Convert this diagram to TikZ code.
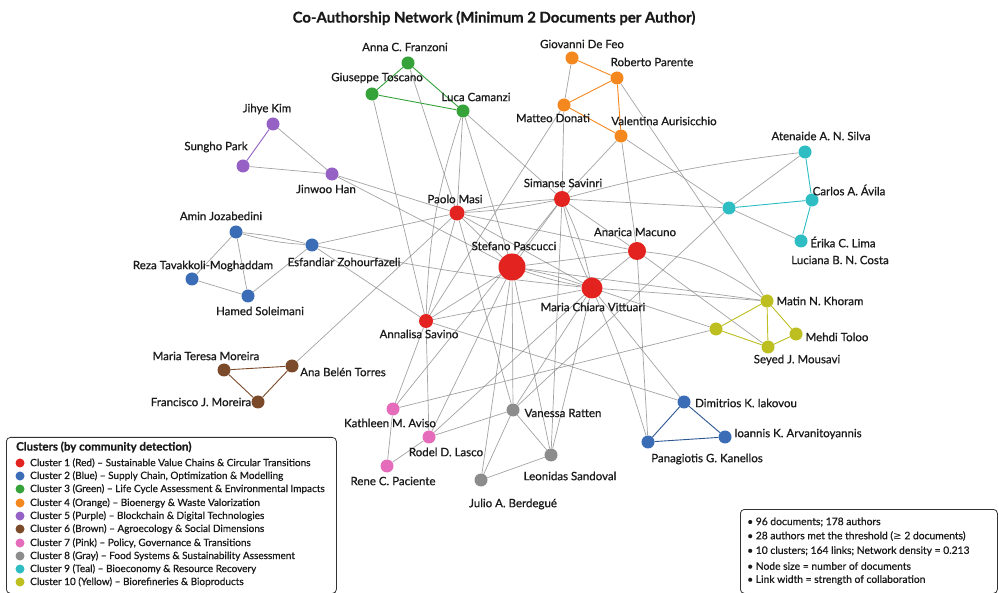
\documentclass[tikz,border=0pt]{standalone}
\usepackage{fontspec}
\setmainfont{Lato}[RawFeature={embolden=0.7}]
\newfontfamily\symfont{DejaVu Sans}
\usetikzlibrary{backgrounds}
\definecolor{cred}{HTML}{E3231F}
\definecolor{cblue}{HTML}{3A6DB5}
\definecolor{cgreen}{HTML}{35A23A}
\definecolor{corange}{HTML}{F5871F}
\definecolor{cpurple}{HTML}{9561C4}
\definecolor{cbrown}{HTML}{7B4A2A}
\definecolor{cpink}{HTML}{E46CBB}
\definecolor{cgray}{HTML}{8C8C8C}
\definecolor{cteal}{HTML}{2DBDC2}
\definecolor{cyellow}{HTML}{BDBE20}
\definecolor{edgegray}{HTML}{858585}
\definecolor{txt}{HTML}{1A1A1A}
\tikzset{
  nd/.style={circle,inner sep=0pt,minimum size=13pt,fill=#1},
  lab/.style={font=\fontsize{11.5}{13}\selectfont,text=txt,inner sep=0pt},
  ge/.style={draw=edgegray,line width=0.7pt,opacity=0.75},
  ce/.style={draw=#1,line width=0.9pt},
  leg/.style={font=\fontsize{10}{11}\selectfont,text=txt,inner sep=0pt,anchor=west},
  ldot/.style={circle,inner sep=0pt,minimum size=9pt,fill=#1},
  box/.style={draw=black!80,line width=0.8pt,rounded corners=4pt,fill=white}
}
\begin{document}
\begin{tikzpicture}[x=1pt,y=-1pt]
\useasboundingbox (0,0) rectangle (999,593);
\node[font=\bfseries\fontsize{14.9}{17}\selectfont,text=txt] (title) at (494,18) {Co-Authorship Network (Minimum 2 Documents per Author)};
% red cluster
\node[nd=cred,minimum size=27pt] (pas) at (512,267) {};
\node[nd=cred,minimum size=21pt] (vit) at (592,288) {};
\node[nd=cred,minimum size=18pt] (mac) at (637,251) {};
\node[nd=cred,minimum size=16pt] (sav) at (562,199) {};
\node[nd=cred,minimum size=15pt] (mas) at (457,213) {};
\node[nd=cred,minimum size=14pt] (ann) at (426,321) {};
% blue
\node[nd=cblue] (amin) at (236,232) {};
\node[nd=cblue] (esf) at (312,245) {};
\node[nd=cblue] (reza) at (192,279) {};
\node[nd=cblue] (ham) at (248,296) {};
\node[nd=cblue] (dim) at (684,402) {};
\node[nd=cblue] (ioa) at (725,437) {};
\node[nd=cblue] (pan) at (648,442) {};
% green
\node[nd=cgreen] (fra) at (408,63) {};
\node[nd=cgreen] (tos) at (372,94) {};
\node[nd=cgreen] (luc) at (463,111) {};
% orange
\node[nd=corange] (feo) at (572,58) {};
\node[nd=corange] (par) at (617,78) {};
\node[nd=corange] (don) at (564,105) {};
\node[nd=corange] (val) at (621,136) {};
% purple
\node[nd=cpurple] (kim) at (273,124) {};
\node[nd=cpurple] (park) at (243,166) {};
\node[nd=cpurple] (han) at (332,174) {};
% brown
\node[nd=cbrown] (mtm) at (224,370) {};
\node[nd=cbrown] (abt) at (292,366) {};
\node[nd=cbrown] (fjm) at (258,402) {};
% pink
\node[nd=cpink] (kat) at (393,409) {};
\node[nd=cpink] (rod) at (429,437) {};
\node[nd=cpink] (ren) at (387,466) {};
% gray
\node[nd=cgray] (van) at (513,410) {};
\node[nd=cgray] (leo) at (551,455) {};
\node[nd=cgray] (jul) at (481,480) {};
% teal
\node[nd=cteal] (sil) at (805,152) {};
\node[nd=cteal] (car) at (812,200) {};
\node[nd=cteal] (eri) at (801,241) {};
\node[nd=cteal] (hub) at (729,208) {};
% yellow
\node[nd=cyellow] (kho) at (767,301) {};
\node[nd=cyellow] (meh) at (796,334) {};
\node[nd=cyellow] (sey) at (768,347) {};
\node[nd=cyellow] (yel) at (716,329) {};
% labels
\node[lab] (lfra) at (405,47) {Anna C. Franzoni};
\node[lab] (ltos) at (377,78) {Giuseppe Toscano};
\node[lab] (lluc) at (476,97) {Luca Camanzi};
\node[lab] (lfeo) at (582,44) {Giovanni De Feo};
\node[lab] (lpar) at (652,62) {Roberto Parente};
\node[lab] (ldon) at (553,118) {Matteo Donati};
\node[lab] (lval) at (664,121) {Valentina Aurisicchio};
\node[lab] (lhan) at (326,189) {Jinwoo Han};
\node[lab] (lkim) at (267,109) {Jihye Kim};
\node[lab] (lpark) at (216,147) {Sungho Park};
\node[lab] (lamin) at (221,216) {Amin Jozabedini};
\node[lab] (lesf) at (344,262) {Esfandiar Zohourfazeli};
\node[lab] (lreza) at (203,266) {Reza Tavakkoli-Moghaddam};
\node[lab] (lham) at (260,311) {Hamed Soleimani};
\node[lab] (lmas) at (455,199) {Paolo Masi};
\node[lab] (lsav) at (563,183) {Simanse Savinri};
\node[lab] (lpas) at (514,246) {Stefano Pascucci};
\node[lab] (lmac) at (635,232) {Anarica Macuno};
\node[lab] (lvit) at (593,307) {Maria Chiara Vittuari};
\node[lab] (lann) at (419,334) {Annalisa Savino};
\node[lab] (lsil) at (821,136) {Atenaide A. N. Silva};
\node[lab] (lcar) at (849,190) {Carlos A. Ávila};
\node[lab] (leri) at (843,242) {Érika C. Lima};
\node[lab] (llu) at (840,260) {Luciana B. N. Costa};
\node[lab] (lkho) at (820,301) {Matin N. Khoram};
\node[lab] (lmeh) at (837,337) {Mehdi Toloo};
\node[lab] (lsey) at (797,360) {Seyed J. Mousavi};
\node[lab] (lmtm) at (206,356) {Maria Teresa Moreira};
\node[lab] (labt) at (343,372) {Ana Belén Torres};
\node[lab] (lfjm) at (201,402) {Francisco J. Moreira};
\node[lab] (lkat) at (390,423) {Kathleen M. Aviso};
\node[lab] (lrod) at (446,452) {Rodel D. Lasco};
\node[lab] (lren) at (393,481) {Rene C. Paciente};
\node[lab] (lvan) at (563,413) {Vanessa Ratten};
\node[lab] (lleo) at (570,476) {Leonidas Sandoval};
\node[lab] (ljul) at (513,504) {Julio A. Berdegué};
\node[lab] (ldim) at (746,403) {Dimitrios K. Iakovou};
\node[lab] (lioa) at (798,434) {Ioannis K. Arvanitoyannis};
\node[lab] (lpan) at (707,459) {Panagiotis G. Kanellos};
\begin{scope}[on background layer]
\fill[white] (0,0) rectangle (999,593);
% gray inter-cluster links
\draw[ge] (kim) -- (han);
\draw[ge] (park) -- (han);
\draw[ge] (han) -- (mas);
\draw[ge] (han) -- (pas);
\draw[ge] (fra) -- (mas);
\draw[ge] (tos) -- (ann);
\draw[ge] (luc) -- (mas);
\draw[ge] (luc) -- (pas);
\draw[ge] (luc) -- (sav);
\draw[ge] (luc) to[bend right=8] (ann);
\draw[ge] (feo) -- (don);
\draw[ge] (don) -- (sav);
\draw[ge] (don) -- (ann);
\draw[ge] (val) -- (sav);
\draw[ge] (val) -- (mac);
\draw[ge] (val) -- (hub);
\draw[ge] (par) -- (kho);
\draw[ge] (sav) to[bend right=4] (mas);
\draw[ge] (sav) to[bend left=4] (mas);
\draw[ge] (sav) -- (pas);
\draw[ge] (sav) to[bend left=6] (vit);
\draw[ge] (sav) to[bend right=6] (vit);
\draw[ge] (sav) -- (mac);
\draw[ge] (sav) -- (hub);
\draw[ge] (sav) to[bend left=4] (sil);
\draw[ge] (sav) -- (kat);
\draw[ge] (sav) -- (leo);
\draw[ge] (mas) -- (pas);
\draw[ge] (mas) -- (vit);
\draw[ge] (mas) -- (mac);
\draw[ge] (mas) -- (ann);
\draw[ge] (mas) -- (esf);
\draw[ge] (mas) -- (abt);
\draw[ge] (mas) -- (van);
\draw[ge] (pas) to[bend left=4] (vit);
\draw[ge] (pas) to[bend right=4] (vit);
\draw[ge] (pas) -- (mac);
\draw[ge] (pas) -- (ann);
\draw[ge] (pas) -- (van);
\draw[ge] (pas) -- (jul);
\draw[ge] (pas) -- (leo);
\draw[ge] (pas) -- (rod);
\draw[ge] (pas) -- (kho);
\draw[ge] (esf) to[bend left=6] (amin);
\draw[ge] (esf) to[bend right=4] (amin);
\draw[ge] (esf) -- (ann);
\draw[ge] (esf) to[bend right=3] (vit);
\draw[ge] (ann) -- (vit);
\draw[ge] (ann) -- (kat);
\draw[ge] (ann) -- (rod);
\draw[ge] (ann) -- (dim);
\draw[ge] (mac) -- (vit);
\draw[ge] (mac) to[bend left=15] (kho);
\draw[ge] (mac) -- (sey);
\draw[ge] (mac) -- (pan);
\draw[ge] (vit) -- (dim);
\draw[ge] (vit) to[bend left=3] (pan);
\draw[ge] (vit) -- (leo);
\draw[ge] (vit) -- (van);
\draw[ge] (vit) -- (kho);
\draw[ge] (vit) -- (yel);
\draw[ge] (vit) -- (rod);
\draw[ge] (hub) -- (van);
\draw[ge] (hub) -- (sil);
\draw[ge] (hub) -- (eri);
\draw[ge] (kat) -- (yel);
\draw[ge] (van) -- (rod);
\draw[ge] (van) -- (leo);
\draw[ge] (van) -- (jul);
\draw[ge] (leo) -- (jul);
% intra-cluster links
\draw[ce=cgreen] (fra) -- (luc);
\draw[ce=cgreen] (tos) -- (luc);
\draw[ce=cgreen] (fra) -- (tos);
\draw[ce=corange] (feo) -- (par);
\draw[ce=corange] (par) -- (don);
\draw[ce=corange] (don) -- (val);
\draw[ce=corange] (par) -- (val);
\draw[ce=cpurple] (kim) -- (park);
\draw[ge] (amin) -- (reza);
\draw[ge] (amin) -- (ham);
\draw[ge] (reza) -- (ham);
\draw[ge] (ham) -- (esf);
\draw[ce=cblue!80!black] (dim) -- (ioa);
\draw[ce=cblue!80!black] (dim) -- (pan);
\draw[ce=cblue!80!black] (pan) -- (ioa);
\draw[ce=cbrown] (mtm) -- (abt);
\draw[ce=cbrown] (mtm) -- (fjm);
\draw[ce=cbrown] (fjm) -- (abt);
\draw[ge] (kat) -- (ren);
\draw[ge] (ren) -- (rod);
\draw[ce=cteal] (sil) -- (car);
\draw[ce=cteal] (car) -- (eri);
\draw[ce=cteal] (hub) -- (car);
\draw[ce=cyellow] (kho) -- (meh);
\draw[ce=cyellow] (kho) -- (sey);
\draw[ce=cyellow] (meh) -- (sey);
\draw[ce=cyellow] (yel) -- (kho);
\draw[ce=cyellow] (yel) -- (sey);
\end{scope}
% legend
\node[box,minimum width=330pt,minimum height=156pt,anchor=north west] (legbox) at (6,437) {};
\node[leg,font=\bfseries\fontsize{11.5}{13}\selectfont] (legtitle) at (16,447) {Clusters (by community detection)};
\node[ldot=cred] (d1) at (20,463) {};
\node[leg] (t1) at (30,463) {Cluster 1 (Red) – Sustainable Value Chains \& Circular Transitions};
\node[ldot=cblue] (d2) at (20,476) {};
\node[leg] (t2) at (30,476) {Cluster 2 (Blue) – Supply Chain, Optimization \& Modelling};
\node[ldot=cgreen] (d3) at (20,489) {};
\node[leg] (t3) at (30,489) {Cluster 3 (Green) – Life Cycle Assessment \& Environmental Impacts};
\node[ldot=corange] (d4) at (20,503) {};
\node[leg] (t4) at (30,503) {Cluster 4 (Orange) – Bioenergy \& Waste Valorization};
\node[ldot=cpurple] (d5) at (20,516) {};
\node[leg] (t5) at (30,516) {Cluster 5 (Purple) – Blockchain \& Digital Technologies};
\node[ldot=cbrown] (d6) at (20,529) {};
\node[leg] (t6) at (30,529) {Cluster 6 (Brown) – Agroecology \& Social Dimensions};
\node[ldot=cpink] (d7) at (20,543) {};
\node[leg] (t7) at (30,543) {Cluster 7 (Pink) – Policy, Governance \& Transitions};
\node[ldot=cgray] (d8) at (20,556) {};
\node[leg] (t8) at (30,556) {Cluster 8 (Gray) – Food Systems \& Sustainability Assessment};
\node[ldot=cteal] (d9) at (20,569) {};
\node[leg] (t9) at (30,569) {Cluster 9 (Teal) – Bioeconomy \& Resource Recovery};
\node[ldot=cyellow] (d10) at (20,582) {};
\node[leg] (t10) at (30,582) {Cluster 10 (Yellow) – Biorefineries \& Bioproducts};
% info box
\node[box,minimum width=257pt,minimum height=84pt,anchor=north west] (infobox) at (740,509) {};
\node[leg,font=\fontsize{10.3}{11}\selectfont] (i1) at (747,522) {• 96 documents; 178 authors};
\node[leg,font=\fontsize{10.3}{11}\selectfont] (i2) at (747,536) {• 28 authors met the threshold ({\symfont ≥} 2 documents)};
\node[leg,font=\fontsize{10.3}{11}\selectfont] (i3) at (747,551) {• 10 clusters; 164 links; Network density = 0.213};
\node[leg,font=\fontsize{10.3}{11}\selectfont] (i4) at (747,566) {• Node size = number of documents};
\node[leg,font=\fontsize{10.3}{11}\selectfont] (i5) at (747,580) {• Link width = strength of collaboration};
\end{tikzpicture}
\end{document}
